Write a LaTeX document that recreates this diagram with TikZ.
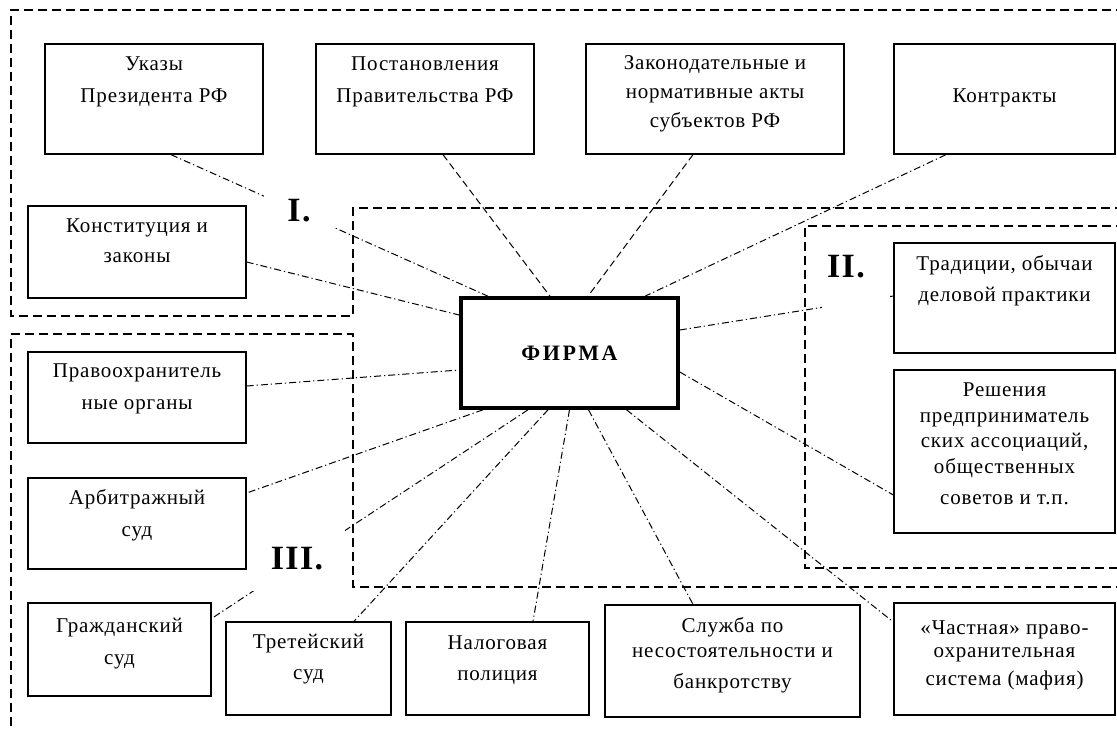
\documentclass[tikz,border=0pt]{standalone}
\usepackage{fontspec}
\setmainfont{Liberation Serif}[LetterSpace=4]
\newcommand\fstrut{\rule{0pt}{16pt}}
\begin{document}
\begin{tikzpicture}[x=1pt,y=-1pt,
  region/.style={line width=1.6pt, dash pattern=on 9pt off 5pt},
  box/.style={draw, fill=white, line width=1.3pt, inner sep=0pt},
  txt/.style={inner sep=0pt, align=center, anchor=north, font=\fontsize{21}{32}\selectfont},
  dd/.style={line width=1pt, dash pattern=on 7pt off 3pt on 1.2pt off 3pt},
  ds/.style={line width=1pt, dash pattern=on 7pt off 4pt},
  mask/.style={fill=white, inner sep=0pt},
  lab/.style={font=\fontsize{34}{34}\selectfont\bfseries, inner sep=0pt}]

\useasboundingbox (0,0) rectangle (1117,730);

% dashed regions
\draw[region] (1125,10) -- (11,10) -- (11,316) -- (353,316) -- (353,208) -- (1125,208);
\draw[region] (1125,587) -- (353,587) -- (353,334) -- (11,334) -- (11,740);
\draw[region] (1125,226) -- (805,226) -- (805,568) -- (1125,568);

% boxes
\node[box, minimum width=218pt, minimum height=110pt] (ukaz)  at (154,99) {};
\node[box, minimum width=218pt, minimum height=110pt] (post)  at (425,99) {};
\node[box, minimum width=258pt, minimum height=110pt] (zak)   at (715,99) {};
\node[box, minimum width=221pt, minimum height=110pt] (kontr) at (1004.5,99) {};
\node[box, minimum width=218pt, minimum height=92pt]  (konst) at (137,252) {};
\node[box, line width=3.6pt, minimum width=217pt, minimum height=110pt] (firma) at (569.5,353) {};
\node[box, minimum width=221pt, minimum height=110pt] (trad)  at (1004.5,298) {};
\node[box, minimum width=221pt, minimum height=163pt] (resh)  at (1004.5,451.5) {};
\node[box, minimum width=218pt, minimum height=91pt]  (pravo) at (137,397.5) {};
\node[box, minimum width=218pt, minimum height=91pt]  (arb)   at (137,523.5) {};
\node[box, minimum width=183pt, minimum height=93pt]  (grazh) at (119.5,649.5) {};
\node[box, minimum width=165pt, minimum height=93pt]  (tret)  at (308.5,668.5) {};
\node[box, minimum width=183pt, minimum height=93pt]  (nalog) at (497.5,668.5) {};
\node[box, minimum width=255pt, minimum height=112pt] (sluzh) at (732.5,661) {};
\node[box, minimum width=221pt, minimum height=112pt] (chast) at (1004.5,659) {};

% texts
\node[txt] (ukazT) at ([yshift=-11pt]ukaz.north) {\fstrut Указы\\Президента РФ};
\node[txt] (postT) at ([yshift=-11pt]post.north) {\fstrut Постановления\\Правительства РФ};
\node[txt, font=\fontsize{21}{29}\selectfont] (zakT) at ([yshift=-10pt]zak.north) {\fstrut Законодательные и\\нормативные акты\\субъектов РФ};
\node[txt] (kontrT) at ([yshift=-43pt]kontr.north) {\fstrut Контракты};
\node[txt, font=\fontsize{21}{30}\selectfont] (konstT) at ([yshift=-11pt]konst.north) {\fstrut Конституция и\\законы};
\node[inner sep=0pt, font=\fontsize{22}{22}\selectfont\bfseries\addfontfeatures{LetterSpace=12}] (firmaT) at (firma.center) {ФИРМА};
\node[txt, font=\fontsize{21}{31}\selectfont] (tradT) at ([yshift=-12pt]trad.north) {\fstrut Традиции, обычаи\\деловой практики};
\node[txt, font=\fontsize{21}{25.5}\selectfont] (reshT) at ([yshift=-11pt]resh.north) {\fstrut Решения\\предприниматель\\ских ассоциаций,\\общественных\\[6pt]советов и т.п.};
\node[txt] (pravoT) at ([yshift=-10pt]pravo.north) {\fstrut Правоохранитель\\ные органы};
\node[txt] (arbT) at ([yshift=-11pt]arb.north) {\fstrut Арбитражный\\суд};
\node[txt] (grazhT) at ([yshift=-14pt]grazh.north) {\fstrut Гражданский\\суд};
\node[txt, font=\fontsize{21}{31}\selectfont] (tretT) at ([yshift=-11pt]tret.north) {\fstrut Третейский\\суд};
\node[txt, font=\fontsize{21}{31}\selectfont] (nalogT) at ([yshift=-12pt]nalog.north) {\fstrut Налоговая\\полиция};
\node[txt, font=\fontsize{21}{25}\selectfont] (sluzhT) at ([yshift=-12pt]sluzh.north) {\fstrut Служба по\\несостоятельности и\\[6pt]банкротству};
\node[txt, font=\fontsize{21}{23}\selectfont] (chastT) at ([yshift=-16pt]chast.north) {\fstrut «Частная» право-\\охранительная\\[5pt]система (мафия)};

% connectors
\draw[dd] ([xshift=17pt]ukaz.south) -- ([xshift=-81.5pt]firma.north);
\draw[ds] ([xshift=18pt]post.south) -- ([xshift=-19.5pt]firma.north);
\draw[ds] ([xshift=-22pt]zak.south) -- ([xshift=18.5pt]firma.north);
\draw[dd] ([xshift=-58.5pt]kontr.south) -- ([xshift=75.5pt]firma.north);
\draw[dd] ([yshift=-10pt]konst.east) -- ([yshift=38pt]firma.west);
\draw[dd] ([yshift=23pt]firma.east) -- ([yshift=2pt]trad.west);
\draw[dd] ([yshift=-19pt]firma.east) -- ([yshift=-43.5pt]resh.west);
\draw[dd] ([xshift=57pt]firma.south) -- ([yshift=37pt]chast.west);
\draw[dd] ([xshift=19pt]firma.south) -- ([xshift=-39.5pt]sluzh.north);
\draw[dd] (firma.south) -- ([xshift=35.5pt]nalog.north);
\draw[dd] ([xshift=-21.5pt]firma.south) -- ([xshift=45.5pt]tret.north);
\draw[dd] ([xshift=-41.5pt]firma.south) -- ([yshift=31pt]grazh.east);
\draw[dd] ([xshift=-86.5pt]firma.south) -- ([yshift=30.5pt]arb.east);
\draw[dd] ([yshift=11.5pt]pravo.east) -- ([yshift=-17pt]firma.west);

% section labels
\node[lab, fill=white, minimum width=70pt, minimum height=44pt] (l1) at (299,211) {I.};
\node[mask, minimum width=68pt, minimum height=67pt] (m2) at (856,278.5) {};
\node[lab] (l2) at (846,267) {II.};
\node[lab, fill=white, minimum width=95pt, minimum height=64pt] (l3) at (297,559) {III.};
\end{tikzpicture}
\end{document}
